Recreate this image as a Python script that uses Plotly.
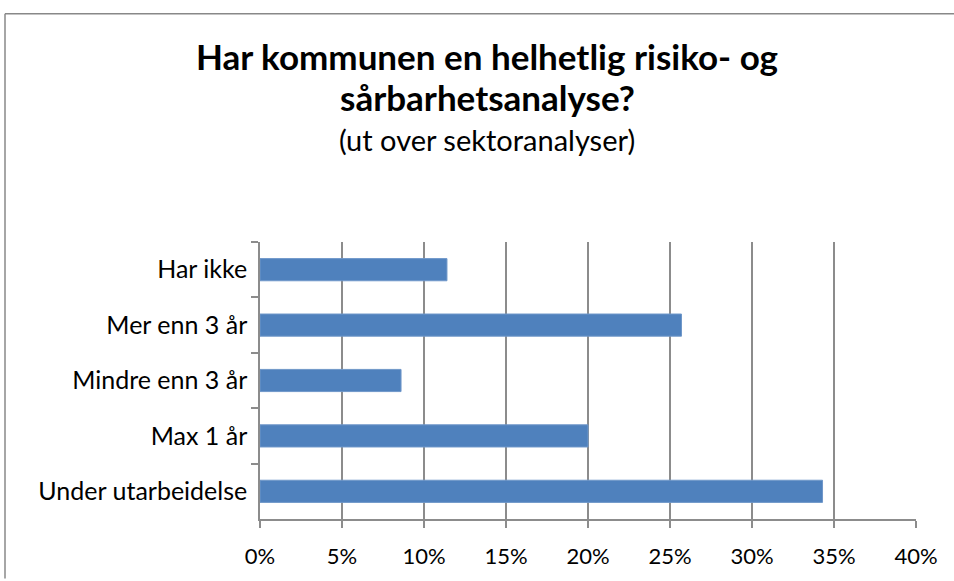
import plotly.graph_objects as go

categories = ["Har ikke", "Mer enn 3 år", "Mindre enn 3 år", "Max 1 år", "Under utarbeidelse"]
values = [0.114, 0.257, 0.086, 0.200, 0.343]
tick_vals = [0, 0.05, 0.10, 0.15, 0.20, 0.25, 0.30, 0.35, 0.40]
tick_text = ["0%", "5%", "10%", "15%", "20%", "25%", "30%", "35%", "40%"]

FONT = "Lato, Carlito, Calibri, sans-serif"
GRID = "#8c8c8c"

fig = go.Figure(go.Bar(
    x=values, y=categories, orientation="h",
    marker=dict(color="#4F81BD", line=dict(color="#6f97c9", width=1)),
    width=0.4,
))

L, R, T, B = 260, 38, 242, 60
W, H = 954, 581
pw, ph = W - L - R, H - T - B

def px_x(px):
    return (px - L) / pw

def px_y(py):
    return (H - B - py) / ph

border = dict(color="#888888", width=1.5)

fig.update_layout(
    width=W, height=H,
    margin=dict(l=L, r=R, t=T, b=B),
    paper_bgcolor="white", plot_bgcolor="white",
    font=dict(family=FONT, color="black", size=22),
    showlegend=False,
    xaxis=dict(
        range=[0, 0.40], tickvals=tick_vals, ticktext=tick_text,
        showgrid=True, gridcolor=GRID, gridwidth=1.5,
        showline=True, linecolor=GRID, linewidth=1.5,
        ticks="outside", ticklen=7, tickcolor=GRID, tickwidth=1.5,
        zeroline=False, tickfont=dict(size=22, family=FONT),
        ticklabelstandoff=10,
    ),
    yaxis=dict(
        autorange="reversed", type="category",
        showgrid=False, showline=True, linecolor=GRID, linewidth=1.5,
        ticks="outside", ticklen=7, tickcolor=GRID, tickwidth=1.5,
        tickson="boundaries", tickfont=dict(size=25, family=FONT),
        ticklabelstandoff=6,
    ),
    shapes=[
        dict(type="line", xref="paper", yref="paper",
             x0=px_x(5), x1=px_x(W), y0=px_y(12), y1=px_y(12), line=border, layer="below"),
        dict(type="line", xref="paper", yref="paper",
             x0=px_x(5), x1=px_x(5), y0=px_y(12), y1=px_y(H), line=border, layer="below"),
    ],
    annotations=[
        dict(text="<b>Har kommunen en helhetlig risiko- og</b>", xref="paper", yref="paper",
             x=px_x(487), y=px_y(55), showarrow=False, font=dict(size=35, family=FONT),
             xanchor="center", yanchor="middle"),
        dict(text="<b>sårbarhetsanalyse?</b>", xref="paper", yref="paper",
             x=px_x(487), y=px_y(96), showarrow=False, font=dict(size=35, family=FONT),
             xanchor="center", yanchor="middle"),
        dict(text="(ut over sektoranalyser)", xref="paper", yref="paper",
             x=px_x(487), y=px_y(139), showarrow=False, font=dict(size=29, family=FONT),
             xanchor="center", yanchor="middle"),
    ],
)

fig.write_html("out.html", config={"displayModeBar": False},
               post_script="document.body.style.margin='0';document.body.style.overflow='hidden';")
